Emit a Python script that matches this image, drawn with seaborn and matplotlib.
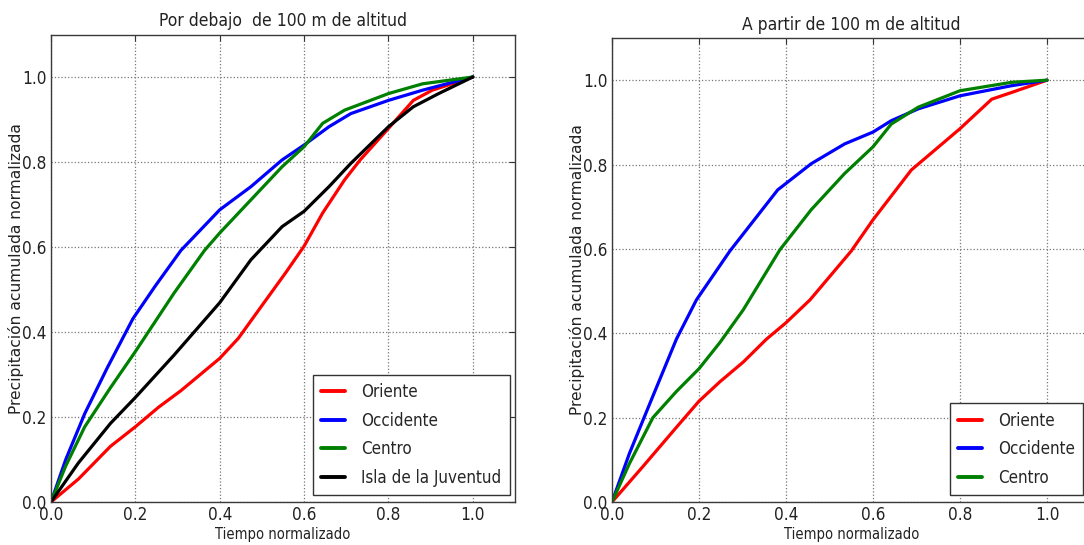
import numpy as np
import pandas as pd
import matplotlib
matplotlib.use("Agg")
import matplotlib.pyplot as plt
import seaborn as sns

# ---------------- data ----------------
titles = ["Por debajo  de 100 m de altitud", "A partir de 100 m de altitud"]
xlabel = "Tiempo normalizado"
ylabel = "Precipitación acumulada normalizada"
ticks = [0.0, 0.2, 0.4, 0.6, 0.8, 1.0]
tick_labels = ["0.0", "0.2", "0.4", "0.6", "0.8", "1.0"]
regions_low = ["Oriente", "Occidente", "Centro", "Isla de la Juventud"]
regions_high = ["Oriente", "Occidente", "Centro"]
colors = {"Oriente": "#ff0000", "Occidente": "#0000ff",
          "Centro": "#008000", "Isla de la Juventud": "#000000"}

# below 100 m
low_oriente_x = [0, 0.065, 0.141, 0.2, 0.255, 0.308, 0.4, 0.444, 0.505, 0.556, 0.6, 0.644, 0.696, 0.733, 0.8, 0.859, 0.904, 1.0]
low_oriente_y = [0, 0.054, 0.131, 0.177, 0.223, 0.262, 0.338, 0.385, 0.469, 0.539, 0.602, 0.68, 0.758, 0.805, 0.879, 0.945, 0.969, 1.0]
low_occidente_x = [0, 0.035, 0.08, 0.133, 0.194, 0.247, 0.308, 0.4, 0.474, 0.548, 0.6, 0.659, 0.711, 0.8, 0.881, 1.0]
low_occidente_y = [0, 0.1, 0.208, 0.315, 0.431, 0.508, 0.592, 0.6875, 0.742, 0.805, 0.84, 0.883, 0.914, 0.945, 0.969, 1.0]
low_centro_x = [0, 0.035, 0.08, 0.141, 0.2, 0.292, 0.364, 0.4, 0.474, 0.548, 0.6, 0.644, 0.696, 0.8, 0.881, 1.0]
low_centro_y = [0, 0.085, 0.177, 0.269, 0.354, 0.492, 0.592, 0.633, 0.711, 0.789, 0.836, 0.891, 0.922, 0.961, 0.984, 1.0]
low_isla_x = [0, 0.065, 0.141, 0.2, 0.292, 0.4, 0.474, 0.548, 0.6, 0.659, 0.711, 0.8, 0.859, 0.919, 1.0]
low_isla_y = [0, 0.092, 0.185, 0.246, 0.346, 0.469, 0.57, 0.648, 0.684, 0.742, 0.797, 0.883, 0.93, 0.961, 1.0]

# from 100 m
high_oriente_x = [0, 0.071, 0.148, 0.2, 0.248, 0.302, 0.355, 0.4, 0.455, 0.55, 0.6, 0.688, 0.8, 0.873, 0.919, 1.0]
high_oriente_y = [0, 0.084, 0.177, 0.239, 0.285, 0.332, 0.386, 0.425, 0.479, 0.595, 0.669, 0.787, 0.885, 0.955, 0.971, 1.0]
high_occidente_x = [0, 0.04, 0.086, 0.148, 0.194, 0.271, 0.381, 0.458, 0.535, 0.6, 0.642, 0.704, 0.8, 0.919, 1.0]
high_occidente_y = [0, 0.115, 0.231, 0.386, 0.479, 0.595, 0.74, 0.802, 0.849, 0.877, 0.904, 0.932, 0.963, 0.987, 1.0]
high_centro_x = [0, 0.04, 0.094, 0.148, 0.2, 0.248, 0.302, 0.386, 0.458, 0.535, 0.6, 0.642, 0.704, 0.8, 0.919, 1.0]
high_centro_y = [0, 0.091, 0.2, 0.262, 0.316, 0.378, 0.456, 0.598, 0.693, 0.779, 0.842, 0.896, 0.936, 0.975, 0.995, 1.0]


def long_df(pairs):
    frames = []
    for name, xs, ys in pairs:
        frames.append(pd.DataFrame({"t": xs, "p": ys, "region": name}))
    return pd.concat(frames, ignore_index=True)


df_low = long_df([("Oriente", low_oriente_x, low_oriente_y),
                  ("Occidente", low_occidente_x, low_occidente_y),
                  ("Centro", low_centro_x, low_centro_y),
                  ("Isla de la Juventud", low_isla_x, low_isla_y)])
df_high = long_df([("Oriente", high_oriente_x, high_oriente_y),
                   ("Occidente", high_occidente_x, high_occidente_y),
                   ("Centro", high_centro_x, high_centro_y)])

# ---------------- style ----------------
sns.set_theme(style="white")
plt.rcParams["font.family"] = ["DejaVu Sans"]
plt.rcParams["font.stretch"] = "condensed"
plt.rcParams["xtick.direction"] = "in"
plt.rcParams["ytick.direction"] = "in"

W, H = 1084, 545
fig = plt.figure(figsize=(W / 100, H / 100), dpi=100)
ax1 = fig.add_axes([51 / W, 43 / H, 464 / W, 467.5 / H])
ax2 = fig.add_axes([612 / W, 43 / H, 478.5 / W, 464 / H])

for ax, df, order, title, anchor, loc in [
        (ax1, df_low, regions_low, titles[0], (0.989, 0.015), "lower right"),
        (ax2, df_high, regions_high, titles[1], (0.706, 0.015), "lower left")]:
    sns.lineplot(data=df, x="t", y="p", hue="region", hue_order=order,
                 palette=colors, estimator=None, sort=True, linewidth=2.3,
                 ax=ax)
    ax.set_xlim(0, 1.1)
    ax.set_ylim(0, 1.1)
    ax.set_xticks(ticks)
    ax.set_xticklabels(tick_labels)
    ax.set_yticks(ticks)
    ax.set_yticklabels(tick_labels)
    ax.grid(True, color="#777777", linestyle=":", linewidth=0.9)
    ax.tick_params(axis="both", which="both", direction="in", top=True,
                   right=True, length=4, width=0.8, color="#333333",
                   labelsize=12.3, pad=3, labelcolor="#222222")
    for s in ax.spines.values():
        s.set_color("#3a3a3a")
        s.set_linewidth(1.0)
    ax.set_title(title, fontsize=12.5, pad=6, color="#222222")
    ax.set_xlabel(xlabel, fontsize=10.5, labelpad=2, color="#222222")
    ax.set_ylabel(ylabel, fontsize=11.2, fontstretch="normal",
                  labelpad=-1, color="#222222")
    leg = ax.legend(loc=loc, bbox_to_anchor=anchor, borderaxespad=0,
                    fontsize=12.2, frameon=True, fancybox=False,
                    framealpha=1, edgecolor="#333333", handlelength=1.4,
                    handletextpad=0.95, labelspacing=0.62, borderpad=0.5)
    leg.get_frame().set_linewidth(1.0)
    for line in leg.get_lines():
        line.set_linewidth(2.8)

fig.savefig("out.png", dpi=100)
